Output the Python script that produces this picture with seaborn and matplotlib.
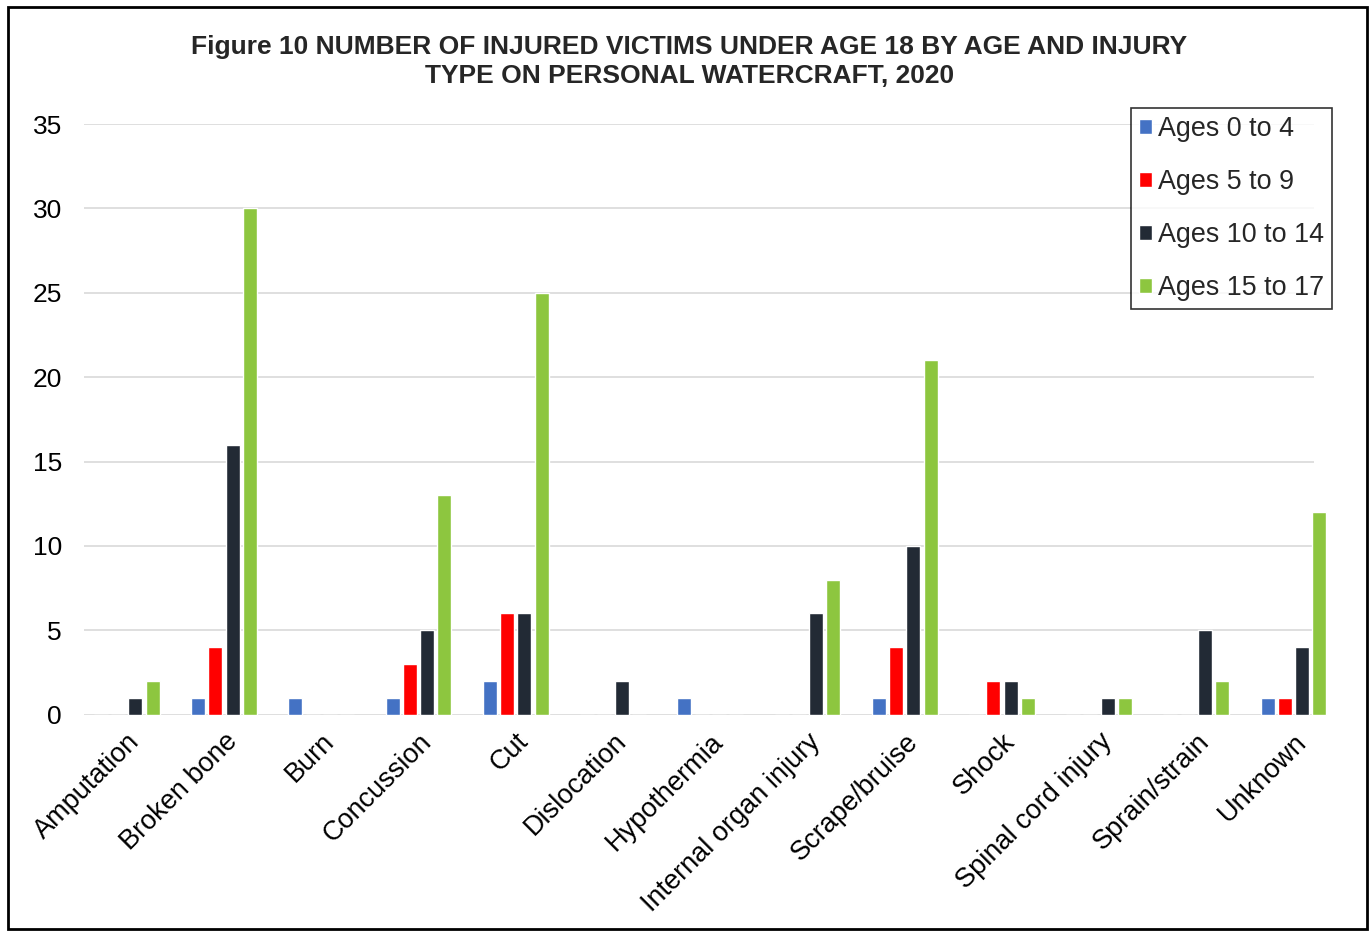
import matplotlib
matplotlib.use("Agg")
import matplotlib.pyplot as plt
from matplotlib.patches import Rectangle
import numpy as np
import pandas as pd
import seaborn as sns

injury_types = [
    "Amputation", "Broken bone", "Burn", "Concussion", "Cut", "Dislocation",
    "Hypothermia", "Internal organ injury", "Scrape/bruise", "Shock",
    "Spinal cord injury", "Sprain/strain", "Unknown",
]
age_groups = ["Ages 0 to 4", "Ages 5 to 9", "Ages 10 to 14", "Ages 15 to 17"]

ages_0_4 = [0, 1, 1, 1, 2, 0, 1, 0, 1, 0, 0, 0, 1]
ages_5_9 = [0, 4, 0, 3, 6, 0, 0, 0, 4, 2, 0, 0, 1]
ages_10_14 = [1, 16, 0, 5, 6, 2, 0, 6, 10, 2, 1, 5, 4]
ages_15_17 = [2, 30, 0, 13, 25, 0, 0, 8, 21, 1, 1, 2, 12]

colors = ["#4472C4", "#FF0000", "#222A35", "#8DC63F"]

df = pd.DataFrame({
    "injury": injury_types * 4,
    "age": np.repeat(age_groups, len(injury_types)),
    "count": ages_0_4 + ages_5_9 + ages_10_14 + ages_15_17,
})

sns.set_theme(style="white")
plt.rcParams["font.family"] = ["Liberation Sans", "DejaVu Sans"]

fig = plt.figure(figsize=(13.7, 9.33), dpi=100)
ax = fig.add_axes([84 / 1370, 0.234, 1230 / 1370, 0.633])

sns.barplot(
    data=df, x="injury", y="count", hue="age", order=injury_types,
    hue_order=age_groups, palette=colors, width=0.71, gap=0.19,
    saturation=1, ax=ax,
)
# last bar pokes out past the gridlines in the original
for p in ax.patches:
    p.set_clip_on(False)

ax.set_ylim(0, 35)
ax.set_yticks(range(0, 36, 5))
ax.set_xlim(-0.44, len(injury_types) - 1 + 0.21)
ax.yaxis.grid(True, color="#D9D9D9", linewidth=1.2)
ax.set_axisbelow(True)
for s in ax.spines.values():
    s.set_visible(False)
ax.set_xlabel("")
ax.set_ylabel("")
ax.tick_params(axis="y", labelsize=19, pad=16, length=0, labelcolor="black")
ax.tick_params(axis="x", labelsize=19.5, length=0, pad=10, labelcolor="black")
plt.setp(ax.get_xticklabels(), rotation=45, ha="right", rotation_mode="anchor")

leg = ax.legend(
    loc="upper right", bbox_to_anchor=(1.015, 1.027), fontsize=19.4,
    frameon=True, fancybox=False, edgecolor="black", handlelength=0.45,
    handleheight=0.45, handletextpad=0.25, labelspacing=1.0,
    borderpad=0.3, borderaxespad=0,
)
leg.get_frame().set_linewidth(1.2)

fig.text(
    0.503, 0.934,
    "Figure 10 NUMBER OF INJURED VICTIMS UNDER AGE 18 BY AGE AND INJURY\n"
    "TYPE ON PERSONAL WATERCRAFT, 2020",
    ha="center", va="center", fontsize=19, fontweight="bold",
    linespacing=1.3,
)

fig.patches.append(Rectangle(
    (0.006, 0.004), 0.992, 0.988, transform=fig.transFigure,
    fill=False, edgecolor="black", linewidth=2,
))

fig.savefig("out.png", dpi=100)
